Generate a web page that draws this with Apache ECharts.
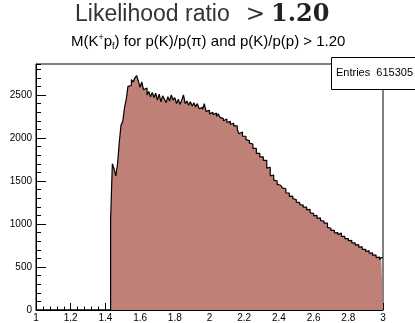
<!DOCTYPE html>
<html>
<head>
<meta charset="utf-8">
<script src="https://cdn.jsdelivr.net/npm/echarts@6/dist/echarts.min.js"></script>
<style>
  html, body { margin: 0; padding: 0; background: #fff; }
  #chart { width: 415px; height: 323px; }
</style>
</head>
<body>
<div id="chart"></div>
<script>
// histogram: 0.01 wide bins starting at the K p threshold
const xMin = 1.0;
const xMax = 3.0;
const binStart = 1.43;
const binWidth = 0.01;
const counts = [
  1050, 1700, 1640, 1560, 1700, 1950, 2150, 2190, 2350, 2450,
  2600, 2610, 2680, 2650, 2700, 2725, 2660, 2590, 2650, 2560,
  2580, 2500, 2540, 2480, 2530, 2470, 2520, 2440, 2510, 2420,
  2490, 2450, 2410, 2480, 2430, 2500, 2440, 2470, 2400, 2450,
  2390, 2440, 2500, 2400, 2430, 2380, 2420, 2370, 2410, 2360,
  2400, 2340, 2355, 2330, 2400, 2310, 2320, 2280, 2300, 2270,
  2290, 2250, 2280, 2240, 2225, 2200, 2220, 2180, 2195, 2160,
  2170, 2140, 2140, 2100, 2050, 2070, 2020, 2020, 1980, 1970,
  1940, 1930, 1880, 1880, 1820, 1820, 1780, 1780, 1740, 1740,
  1650, 1660, 1560, 1570, 1510, 1500, 1460, 1450, 1460, 1420,
  1410, 1360, 1360, 1320, 1325, 1295, 1285, 1255, 1250, 1225,
  1220, 1195, 1195, 1165, 1170, 1130, 1125, 1095, 1100, 1065,
  1070, 1040, 1035, 1010, 1010, 960, 950, 925, 925, 895,
  900, 875, 895, 855, 855, 830, 830, 805, 810, 780,
  780, 755, 760, 730, 735, 705, 705, 680, 690, 660,
  665, 635, 640, 610, 615, 585, 610
];
const yMax = 2860;
const entriesLabel = 'Entries';
const entriesValue = '615305';

const histData = [[xMin, 0], [binStart, 0]];
counts.forEach((c, i) => {
    histData.push([+(binStart + i * binWidth).toFixed(3), c]);
});
histData.push([xMax, counts[counts.length - 1]]);

const chart = echarts.init(document.getElementById('chart'), null, { renderer: 'canvas' });

const labelFont = { fontFamily: 'Liberation Sans', fontSize: 10, color: '#000' };

chart.setOption({
    animation: false,
    backgroundColor: '#fff',
    title: [{
        text: '{a|Likelihood ratio}{b|>}{c|1.20}',
        left: 75, top: 3, padding: 0,
        textStyle: {
            fontWeight: 'normal',
            rich: {
                a: { fontFamily: 'Liberation Sans', fontWeight: 'normal', fontSize: 23, color: '#333' },
                b: { fontFamily: 'DejaVu Sans', fontWeight: 'normal', fontSize: 23, color: '#333', padding: [0, 0, 0, 16] },
                c: { fontFamily: 'DejaVu Serif', fontWeight: 'bold', fontSize: 24, color: '#222', padding: [0, 0, 0, 6] }
            }
        }
    }, {
        text: '{n|M(K}{sup|+}{n|p}{sub|f}{n|) for p(K)/p(\u03c0) and p(K)/p(p) > 1.20}',
        left: 71, top: 33, padding: 0,
        textStyle: {
            fontWeight: 'normal',
            rich: {
                n: { fontFamily: 'Liberation Sans', fontWeight: 'normal', fontSize: 15, lineHeight: 18, color: '#000' },
                sup: { fontFamily: 'Liberation Sans', fontWeight: 'normal', fontSize: 9, lineHeight: 9, verticalAlign: 'top', color: '#000' },
                sub: { fontFamily: 'Liberation Sans', fontWeight: 'normal', fontSize: 9, lineHeight: 9, verticalAlign: 'bottom', color: '#000' }
            }
        }
    }],
    grid: {
        left: 36, right: 32, top: 64, bottom: 10,
        show: true, borderColor: '#000', borderWidth: 1, backgroundColor: '#fff'
    },
    xAxis: {
        type: 'value', min: xMin, max: xMax, interval: 0.2,
        axisLine: { show: true, onZero: false, lineStyle: { color: '#000', width: 1 } },
        axisTick: { show: true, inside: true, length: 7, lineStyle: { color: '#000' } },
        minorTick: { show: true, splitNumber: 5, length: 3.5, lineStyle: { color: '#000' } },
        splitLine: { show: false },
        axisLabel: Object.assign({ margin: 3, formatter: v => String(+v.toFixed(1)) }, labelFont)
    },
    yAxis: [{
        type: 'value', min: 0, max: yMax, interval: 500,
        axisLine: { show: true, lineStyle: { color: '#000', width: 1 } },
        axisTick: { show: true, inside: true, length: 10, lineStyle: { color: '#000' } },
        splitLine: { show: false },
        axisLabel: Object.assign({ margin: 4, showMaxLabel: false, formatter: v => String(v) }, labelFont)
    }, {
        type: 'value', min: 0, max: yMax, interval: 100, position: 'left',
        axisLine: { show: false },
        axisTick: { show: true, inside: true, length: 5, lineStyle: { color: '#000' } },
        splitLine: { show: false },
        axisLabel: { show: false }
    }],
    graphic: [{
        type: 'group', z: 100,
        children: [{
            type: 'rect',
            shape: { x: 331.5, y: 57.5, width: 90, height: 32 },
            style: { fill: '#fff', stroke: '#000', lineWidth: 1 }
        }, {
            type: 'text', x: 336, y: 73,
            style: { text: entriesLabel, fontFamily: 'Liberation Sans', fontSize: 11, fill: '#000', verticalAlign: 'middle', align: 'left' }
        }, {
            type: 'text', x: 413, y: 73,
            style: { text: entriesValue, fontFamily: 'Liberation Sans', fontSize: 11, fill: '#000', verticalAlign: 'middle', align: 'right' }
        }]
    }],
    series: [{
        type: 'line',
        data: histData,
        step: 'end',
        symbol: 'none',
        lineStyle: { color: '#000', width: 1.2 },
        areaStyle: { color: '#bf8177', opacity: 1, origin: 'start' },
        z: 3
    }]
});
</script>
</body>
</html>
